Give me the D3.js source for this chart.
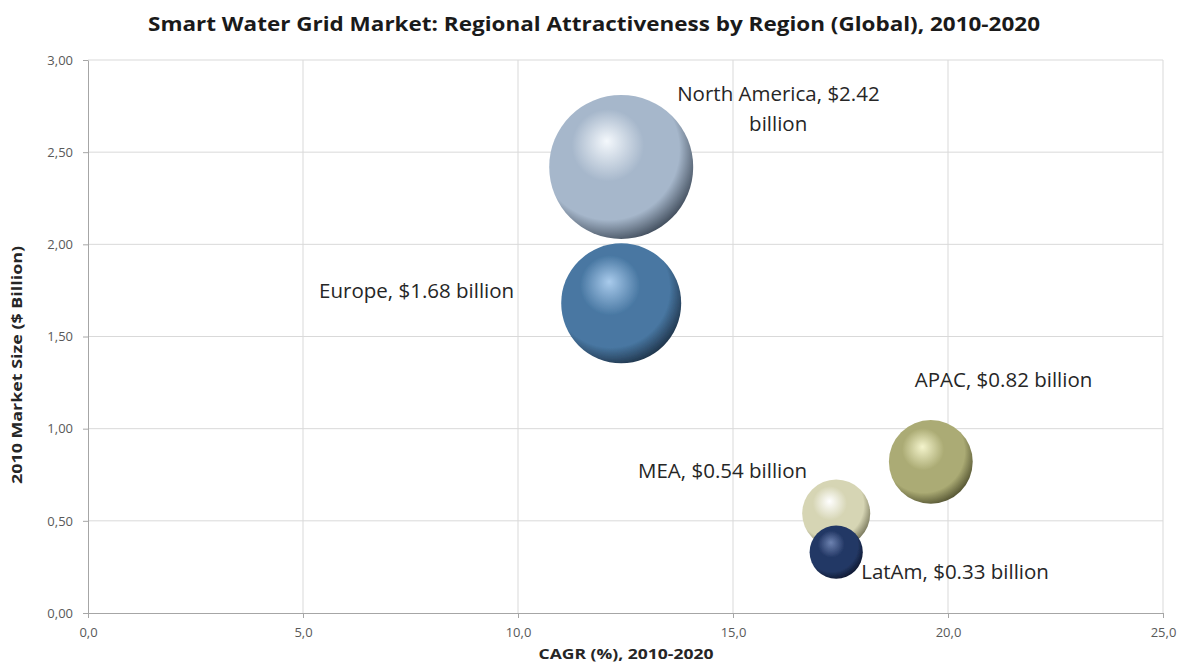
<!DOCTYPE html>
<html>
<head>
<meta charset="utf-8">
<script src="https://cdn.jsdelivr.net/npm/d3@7"></script>
<style>
  html, body { margin: 0; padding: 0; background: #fff; }
  svg { display: block; }
</style>
</head>
<body>
<svg id="chart" width="1186" height="662"></svg>
<script>
// Regional attractiveness: CAGR vs 2010 market size, bubble area = market size
const regions   = ["North America", "Europe", "APAC", "MEA", "LatAm"];
const cagr      = [12.4, 12.4, 19.6, 17.4, 17.4];
const size2010  = [2.42, 1.68, 0.82, 0.54, 0.33];
const labels    = ["North America, $2.42|billion", "Europe, $1.68 billion", "APAC, $0.82 billion", "MEA, $0.54 billion", "LatAm, $0.33 billion"];
const xTicks    = [0, 5, 10, 15, 20, 25];
const yTicks    = [0, 0.5, 1, 1.5, 2, 2.5, 3];

// sphere shading: [highlight, base, shadow]
const shades = [
  ["#f4f8fc", "#a6b7cb", "#2f3a48"],
  ["#a9cbec", "#4877a2", "#18283a"],
  ["#f4f4cc", "#abab74", "#444426"],
  ["#ffffff", "#d6d5b4", "#66654a"],
  ["#6d82b0", "#233865", "#0a1226"]
];
// label anchor offsets relative to bubble centre
const labelPos = [
  {dx: 56,  dy: -66, anchor: "start"},
  {dx: -107, dy: -5,  anchor: "end"},
  {dx: -16, dy: -75, anchor: "start"},
  {dx: -29, dy: -35, anchor: "end"},
  {dx: 25,  dy: 27,  anchor: "start"}
];

const svg = d3.select("#chart");
const margin = {left: 88, right: 1163, top: 60, bottom: 613};

const x = d3.scaleLinear().domain([0, 25]).range([margin.left, margin.right]);
const y = d3.scaleLinear().domain([0, 3]).range([margin.bottom, margin.top]);
const r = d3.scaleSqrt().domain([0, 2.42]).range([0, 72]);

const fmt1 = v => d3.format(".1f")(v).replace(".", ",");
const fmt2 = v => d3.format(".2f")(v).replace(".", ",");

// gradients
const defs = svg.append("defs");
shades.forEach((s, i) => {
  const g = defs.append("radialGradient")
    .attr("id", "sph" + i)
    .attr("cx", "0.42").attr("cy", "0.4").attr("r", "0.66")
    .attr("fx", "0.4").attr("fy", "0.32");
  g.append("stop").attr("offset", "0%").attr("stop-color", s[0]);
  g.append("stop").attr("offset", "38%").attr("stop-color", s[1]);
  g.append("stop").attr("offset", "74%").attr("stop-color", s[1]);
  g.append("stop").attr("offset", "100%").attr("stop-color", s[2]);
});
const sm = defs.append("filter").attr("id", "soft").attr("x", "-10%").attr("y", "-10%").attr("width", "120%").attr("height", "120%");
sm.append("feGaussianBlur").attr("stdDeviation", 0.7);

// grid
svg.append("g").selectAll("line.v").data(xTicks.filter(d => d > 0)).join("line")
  .attr("x1", d => x(d)).attr("x2", d => x(d))
  .attr("y1", y(3)).attr("y2", y(0))
  .attr("stroke", "#d9d9d9").attr("stroke-width", 1);
svg.append("g").selectAll("line.h").data(yTicks.filter(d => d > 0)).join("line")
  .attr("x1", x(0)).attr("x2", x(25))
  .attr("y1", d => y(d)).attr("y2", d => y(d))
  .attr("stroke", "#d9d9d9").attr("stroke-width", 1);

// axes
const xAxis = svg.append("g").attr("transform", `translate(0,${y(0)})`)
  .call(d3.axisBottom(x).tickValues(xTicks).tickFormat(fmt1).tickSize(5).tickSizeOuter(0));
const yAxis = svg.append("g").attr("transform", `translate(${x(0)},0)`)
  .call(d3.axisLeft(y).tickValues(yTicks).tickFormat(fmt2).tickSize(5).tickSizeOuter(0));
[xAxis, yAxis].forEach(a => {
  a.select(".domain").attr("stroke", "#a6a6a6");
  a.selectAll(".tick line").attr("stroke", "#a6a6a6");
  a.selectAll("text").attr("fill", "#595959")
    .style("font-family", "'Open Sans', sans-serif").style("font-size", "13px");
});
xAxis.selectAll("text").attr("dy", "1.2em");
yAxis.selectAll("text").attr("x", -15);

// bubbles, largest first
const data = regions.map((name, i) => ({name, i, cx: cagr[i], v: size2010[i]}));
svg.append("g").selectAll("circle")
  .data(data.slice().sort((a, b) => b.v - a.v)).join("circle")
  .attr("cx", d => x(d.cx)).attr("cy", d => y(d.v)).attr("r", d => r(d.v))
  .attr("fill", d => `url(#sph${d.i})`)
  .attr("filter", "url(#soft)");

// data labels
const lbl = svg.append("g").selectAll("text").data(data).join("text")
  .attr("x", d => x(d.cx) + labelPos[d.i].dx)
  .attr("y", d => y(d.v) + labelPos[d.i].dy)
  .attr("text-anchor", d => labelPos[d.i].anchor)
  .attr("fill", "#262626")
  .style("font-family", "'Open Sans', sans-serif").style("font-size", "20.5px");
lbl.each(function(d) {
  const parts = labels[d.i].split("|");
  const t = d3.select(this);
  parts.forEach((p, k) => {
    t.append("tspan").attr("x", k === 0 ? null : x(d.cx) + labelPos[d.i].dx + 101)
      .attr("dy", k === 0 ? 0 : 30)
      .attr("text-anchor", k === 0 ? null : "middle")
      .text(p);
  });
});

// titles
svg.append("text").attr("x", 594).attr("y", 31).attr("text-anchor", "middle")
  .attr("fill", "#1a1a1a").style("font-family", "'Open Sans', sans-serif")
  .style("font-size", "19px").style("font-weight", "bold")
  .attr("textLength", 892).attr("lengthAdjust", "spacingAndGlyphs")
  .text("Smart Water Grid Market: Regional Attractiveness by Region (Global), 2010-2020");
svg.append("text").attr("x", 626).attr("y", 659).attr("text-anchor", "middle")
  .attr("fill", "#262626").style("font-family", "'Open Sans', sans-serif")
  .style("font-size", "15px").style("font-weight", "bold")
  .attr("textLength", 175).attr("lengthAdjust", "spacingAndGlyphs")
  .text("CAGR (%), 2010-2020");
svg.append("text").attr("transform", "translate(22,365) rotate(-90)").attr("text-anchor", "middle")
  .attr("fill", "#262626").style("font-family", "'Open Sans', sans-serif")
  .style("font-size", "15px").style("font-weight", "bold")
  .attr("textLength", 238).attr("lengthAdjust", "spacingAndGlyphs")
  .text("2010 Market Size ($ Billion)");
</script>
</body>
</html>
